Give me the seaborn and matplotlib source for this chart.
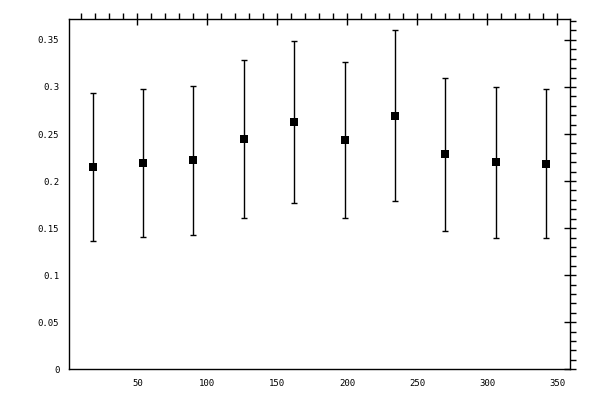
import matplotlib
matplotlib.use("Agg")
import matplotlib.pyplot as plt
import seaborn as sns
import pandas as pd
from matplotlib.ticker import MultipleLocator, FormatStrFormatter

# Values
x_vals = [18, 54, 90, 126, 162, 198, 234, 270, 306, 342]
y_vals = [0.2149, 0.2191, 0.2223, 0.2447, 0.2628, 0.2436, 0.2691, 0.2287, 0.2202, 0.2181]
y_low = [0.1362, 0.1404, 0.1429, 0.1606, 0.1766, 0.1606, 0.1787, 0.1468, 0.1394, 0.1394]
y_high = [0.2936, 0.2979, 0.3010, 0.3287, 0.3489, 0.3266, 0.3606, 0.3092, 0.3000, 0.2979]

df = pd.DataFrame({"x": x_vals, "y": y_vals, "lo": y_low, "hi": y_high})

sns.set_style("white")
plt.rcParams["font.family"] = ["DejaVu Sans Mono"]

fig = plt.figure(figsize=(6, 4), dpi=100)
ax = fig.add_axes([0.115, 0.0767, 0.835, 0.8753])

# error bars from the stored low/high bounds
ax.errorbar(df["x"], df["y"],
            yerr=[df["y"] - df["lo"], df["hi"] - df["y"]],
            fmt="none", ecolor="black", elinewidth=1.0, capsize=2.5, capthick=1.0)
sns.scatterplot(data=df, x="x", y="y", marker="s", s=34, color="black",
                edgecolor="black", linewidth=0, ax=ax, zorder=3)

ax.set_xlim(1.2, 359)
ax.set_ylim(0, 0.372)
ax.set_xlabel("")
ax.set_ylabel("")

ax.xaxis.set_major_locator(MultipleLocator(50))
ax.xaxis.set_minor_locator(MultipleLocator(10))
ax.yaxis.set_major_locator(MultipleLocator(0.05))
ax.yaxis.set_minor_locator(MultipleLocator(0.01))
ax.yaxis.set_major_formatter(FormatStrFormatter("%g"))

ax.tick_params(which="major", direction="inout", length=8, width=1, color="black",
               top=True, right=True, labelsize=6.5, labelcolor="black", pad=3)
ax.tick_params(which="minor", direction="out", length=4, width=1, color="black",
               top=True, right=True)

for side in ["left", "right", "top", "bottom"]:
    ax.spines[side].set_visible(True)
    ax.spines[side].set_color("black")
    ax.spines[side].set_linewidth(1)

fig.savefig("out.png", dpi=100)
